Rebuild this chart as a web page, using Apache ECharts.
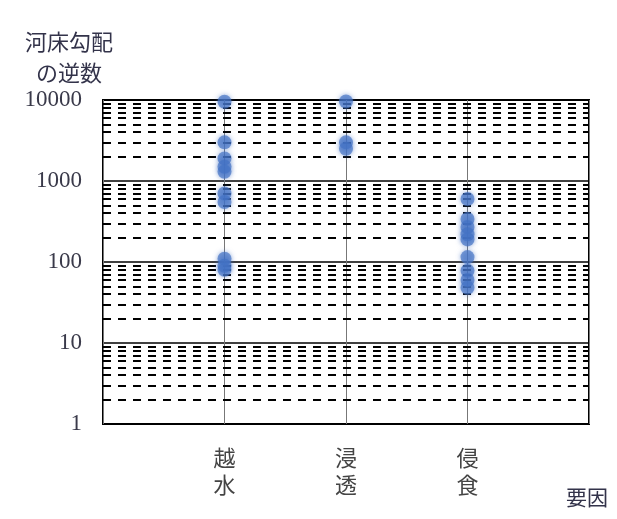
<!DOCTYPE html>
<html>
<head>
<meta charset="utf-8">
<script src="https://cdn.jsdelivr.net/npm/echarts@6/dist/echarts.min.js"></script>
<style>
  html, body { margin: 0; padding: 0; background: #fff; }
  #chart { width: 617px; height: 519px; }
</style>
</head>
<body>
<div id="chart"></div>
<script>
// categories (blank slots at both ends give the outer quarter spacing)
const categories = ['', '越水', '浸透', '侵食', ''];

// reciprocal of riverbed slope
const overflowValues = [9500, 3000, 1900, 1500, 1300, 700, 550, 110, 90, 80];
const seepageValues = [9600, 3000, 2500];
const erosionValues = [600, 340, 270, 220, 190, 115, 78, 60, 48];

// dashed minor grid (2..9 of each decade)
const minorLines = [2, 3, 4, 5, 6, 7, 8, 9, 20, 30, 40, 50, 60, 70, 80, 90,
  200, 300, 400, 500, 600, 700, 800, 900, 2000, 3000, 4000, 5000, 6000, 7000, 8000, 9000];

const serif = '"Liberation Serif", "Noto Sans CJK JP", serif';
const myChart = echarts.init(document.getElementById('chart'));

function toPoints(cat, values) {
  return values.map(v => [cat, v]);
}

const option = {
  backgroundColor: '#fff',
  animation: false,
  grid: {
    left: 103, right: 28, top: 100, bottom: 95,
    show: true, borderColor: '#000', borderWidth: 2
  },
  title: {
    text: '河床勾配\n  の逆数',
    left: 20, top: 24,
    textStyle: {
      color: '#33334a', fontSize: 22, fontWeight: 'normal',
      fontFamily: serif, lineHeight: 31
    }
  },
  graphic: [{
    type: 'text', left: 566, top: 489,
    style: { text: '要因', fill: '#33334a', fontSize: 21, fontFamily: serif }
  }],
  xAxis: {
    type: 'category',
    data: categories,
    boundaryGap: false,
    axisLine: { show: false },
    axisTick: { show: false },
    axisLabel: {
      margin: 23, color: '#444', fontSize: 22, fontFamily: serif, lineHeight: 27,
      formatter: v => v.split('').join('\n')
    },
    splitLine: { show: true, lineStyle: { color: '#777', width: 1 } }
  },
  yAxis: {
    type: 'log',
    logBase: 10,
    min: 1,
    max: 10000,
    axisLine: { show: false },
    axisTick: { show: false },
    axisLabel: {
      margin: 21, color: '#3a3a4a', fontSize: 23, fontFamily: serif,
      formatter: v => String(v)
    },
    splitLine: { show: true, lineStyle: { color: '#000', width: 1.5 } }
  },
  series: [
    {
      type: 'line',
      data: [],
      silent: true,
      z: 1,
      markLine: {
        silent: true,
        symbol: 'none',
        label: { show: false },
        lineStyle: { color: '#000', width: 2, type: [8, 7] },
        data: minorLines.map(v => ({ yAxis: v }))
      }
    },
    {
      type: 'scatter',
      z: 5,
      symbolSize: 14,
      itemStyle: {
        color: 'rgba(68,114,196,0.85)',
        shadowBlur: 5,
        shadowColor: 'rgba(68,114,196,0.8)'
      },
      data: [].concat(
        toPoints('越水', overflowValues),
        toPoints('浸透', seepageValues),
        toPoints('侵食', erosionValues)
      )
    }
  ]
};

myChart.setOption(option);
</script>
</body>
</html>
